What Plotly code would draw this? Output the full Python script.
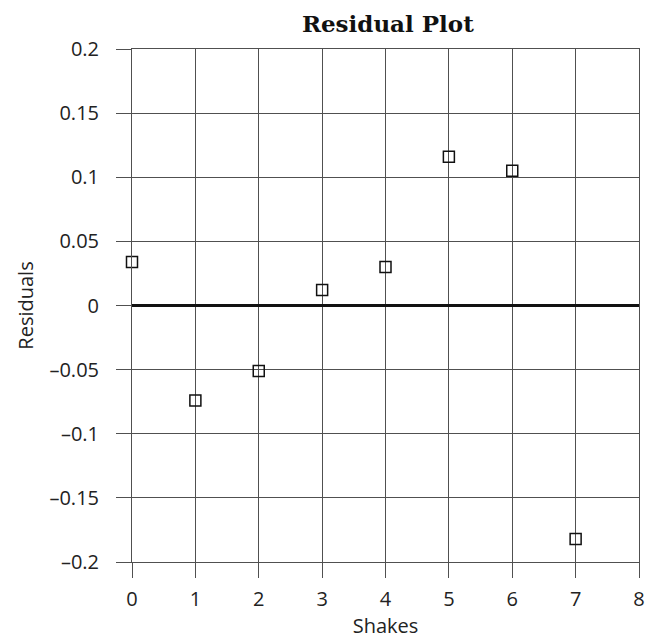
import plotly.graph_objects as go

# Residuals of the fitted model for each number of shakes
shakes = [0, 1, 2, 3, 4, 5, 6, 7]
residuals = [0.034, -0.074, -0.051, 0.012, 0.030, 0.116, 0.105, -0.182]

x_ticks = [0, 1, 2, 3, 4, 5, 6, 7, 8]
y_ticks = [0.2, 0.15, 0.1, 0.05, 0, -0.05, -0.1, -0.15, -0.2]
y_tick_text = ["0.2", "0.15", "0.1", "0.05", "0", "\u20130.05", "\u20130.1", "\u20130.15", "\u20130.2"]

grid_color = "#505050"
sans = "Open Sans, Noto Sans, sans-serif"
tick_font = dict(family=sans, size=20, color="#222")

fig = go.Figure()
fig.add_trace(go.Scatter(
    x=shakes, y=residuals, mode="markers",
    marker=dict(symbol="square-open", size=11, color="#111", line=dict(width=1.5, color="#111")),
    showlegend=False, cliponaxis=False,
))

fig.update_layout(
    width=654, height=639,
    margin=dict(l=132, r=9, t=49, b=77),
    paper_bgcolor="white", plot_bgcolor="white",
    title=dict(text="<b>Residual Plot</b>", x=0.593, xanchor="center", y=0.962, yanchor="middle",
               font=dict(family="DejaVu Serif, serif", size=23, color="#111")),
    xaxis=dict(
        range=[0, 8], tickvals=x_ticks, ticks="outside", ticklen=15, tickcolor=grid_color,
        showgrid=True, gridcolor=grid_color, gridwidth=1, zeroline=False,
        showline=True, linecolor=grid_color, linewidth=1, mirror=True,
        tickfont=tick_font, ticklabelstandoff=4,
        title=dict(text="Shakes", font=dict(family=sans, size=20, color="#222"), standoff=2),
    ),
    yaxis=dict(
        range=[-0.2, 0.2], tickvals=y_ticks, ticktext=y_tick_text, ticks="outside", ticklen=15,
        tickcolor=grid_color, showgrid=True, gridcolor=grid_color, gridwidth=1,
        zeroline=True, zerolinecolor="#111", zerolinewidth=2.5,
        showline=True, linecolor=grid_color, linewidth=1, mirror=True,
        tickfont=tick_font, ticklabelstandoff=13,
        title=dict(text="Residuals", font=dict(family=sans, size=20, color="#222"), standoff=10),
    ),
)

fig.write_html("out.html")
